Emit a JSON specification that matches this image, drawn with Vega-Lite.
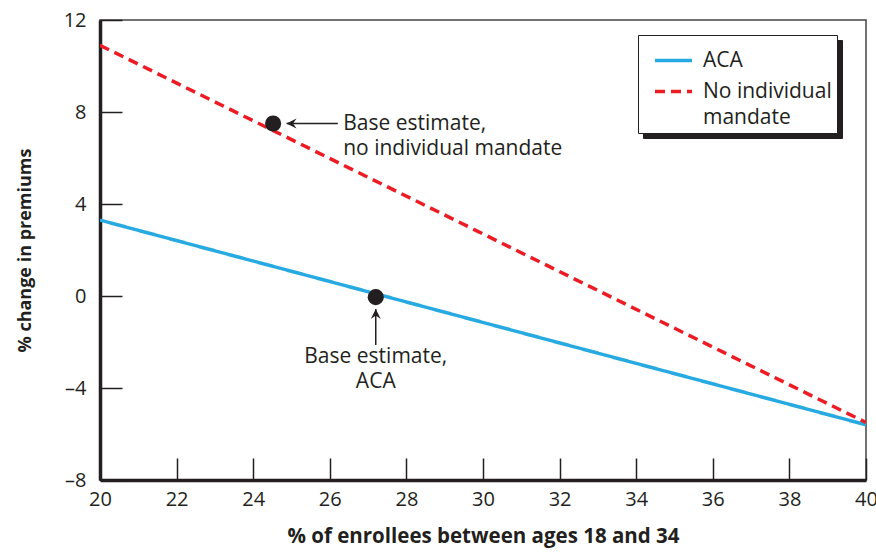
{
  "$schema": "https://vega.github.io/schema/vega-lite/v6.json",
  "width": 766,
  "height": 460,
  "autosize": {"type": "none"},
  "padding": {"left": 100, "top": 20, "right": 10, "bottom": 74},
  "background": "white",
  "config": {
    "font": "Open Sans",
    "view": {"stroke": "#444444", "strokeWidth": 1.5},
    "axis": {
      "grid": false,
      "domainColor": "#231f20",
      "domainWidth": 3.5,
      "tickColor": "#231f20",
      "tickWidth": 1.5,
      "tickSize": -22,
      "labelFontSize": 20,
      "labelColor": "#231f20",
      "labelFont": "Open Sans",
      "titleFont": "Open Sans",
      "titleFontWeight": "bold",
      "titleColor": "#231f20"
    }
  },
  "datasets": {
    "lines": [
      {"series": "ACA", "shadow": "ACA", "x": 20, "y": 3.3},
      {"series": "ACA", "shadow": "ACA", "x": 40, "y": -5.6},
      {"series": "No individual mandate", "shadow": "No individual mandate", "x": 20, "y": 10.9},
      {"series": "No individual mandate", "shadow": "No individual mandate", "x": 40, "y": -5.5}
    ],
    "points": [
      {"x": 24.52, "y": 7.5},
      {"x": 27.2, "y": -0.05}
    ],
    "arrows": [
      {"dir": "left", "x": 24.87, "y": 7.5, "x2": 26.21, "y2": 7.5},
      {"dir": "up", "x": 27.2, "y": -0.57, "x2": 27.2, "y2": -2.13}
    ],
    "labelsLeft": [
      {"x": 26.35, "y": 7.5, "text": "Base estimate,\nno individual mandate"}
    ],
    "labelsCenter": [
      {"x": 27.2, "y": -2.65, "text": "Base estimate,\nACA"}
    ]
  },
  "layer": [
    {
      "data": {"name": "lines"},
      "mark": {"type": "line", "strokeWidth": 3.5, "clip": true},
      "encoding": {
        "x": {
          "field": "x", "type": "quantitative",
          "scale": {"domain": [20, 40], "nice": false, "zero": false},
          "axis": {
            "values": [20,21,22,23,24,25,26,27,28,29,30,31,32,33,34,35,36,37,38,39,40],
            "labelExpr": "datum.value % 2 == 0 ? datum.label : ''",
            "labelPadding": 31,
            "labelFlush": false,
            "title": "% of enrollees between ages 18 and 34",
            "titleFontSize": 20.5,
            "titlePadding": 17
          }
        },
        "y": {
          "field": "y", "type": "quantitative",
          "scale": {"domain": [-8, 12], "nice": false, "zero": false},
          "axis": {
            "values": [-8, -4, 0, 4, 8, 12],
            "labelExpr": "datum.value < 0 ? '–' + abs(datum.value) : datum.label",
            "labelPadding": 36,
            "labelFlush": false,
            "title": "% change in premiums",
            "titleFontSize": 18,
            "titlePadding": 29
          }
        },
        "opacity": {
          "field": "shadow", "type": "nominal",
          "scale": {"range": [1, 1]},
          "legend": {
            "title": null,
            "orient": "none",
            "legendX": 543,
            "legendY": 20,
            "zindex": 0,
            "strokeColor": "#231f20",
            "fillColor": "#231f20",
            "padding": 5,
            "labelFontSize": 21,
            "labelColor": "#231f20",
            "labelFont": "Open Sans",
            "labelOffset": 9,
            "labelLimit": 300,
            "symbolType": "stroke",
            "symbolSize": 1369,
            "symbolOffset": 10,
            "symbolStrokeWidth": 3.5,
            "symbolStrokeColor": "#231f20",
            "rowPadding": -22,
            "labelExpr": "datum.label == 'No individual mandate' ? ['No individual', 'mandate'] : datum.label",
            "encode": {"labels": {"update": {"lineHeight": {"value": 26}}}}
          }
        },
        "color": {
          "field": "series", "type": "nominal",
          "scale": {"domain": ["ACA", "No individual mandate"], "range": ["#27a9e1", "#ed1c24"]},
          "legend": {
            "title": null,
            "orient": "none",
            "legendX": 538,
            "legendY": 15,
            "zindex": 2,
            "strokeColor": "#231f20",
            "fillColor": "white",
            "padding": 5,
            "labelFontSize": 21,
            "labelColor": "#231f20",
            "labelFont": "Open Sans",
            "labelOffset": 9,
            "labelLimit": 300,
            "symbolSize": 1369,
            "symbolOffset": 10,
            "symbolStrokeWidth": 3.5,
            "rowPadding": -22,
            "labelExpr": "datum.label == 'No individual mandate' ? ['No individual', 'mandate'] : datum.label",
            "encode": {"labels": {"update": {"lineHeight": {"value": 26}}}}
          }
        },
        "strokeDash": {
          "field": "series", "type": "nominal",
          "scale": {"domain": ["ACA", "No individual mandate"], "range": [[1, 0], [10, 6]]},
          "legend": {
            "title": null,
            "orient": "none",
            "legendX": 538,
            "legendY": 15,
            "zindex": 2,
            "strokeColor": "#231f20",
            "fillColor": "white",
            "padding": 5,
            "labelFontSize": 21,
            "labelColor": "#231f20",
            "labelFont": "Open Sans",
            "labelOffset": 9,
            "labelLimit": 300,
            "symbolSize": 1369,
            "symbolOffset": 10,
            "symbolStrokeWidth": 3.5,
            "rowPadding": -22,
            "labelExpr": "datum.label == 'No individual mandate' ? ['No individual', 'mandate'] : datum.label",
            "encode": {"labels": {"update": {"lineHeight": {"value": 26}}}}
          }
        }
      }
    },
    {
      "data": {"name": "arrows"},
      "mark": {"type": "rule", "color": "#231f20", "strokeWidth": 1.5},
      "encoding": {
        "x": {"field": "x", "type": "quantitative"},
        "y": {"field": "y", "type": "quantitative"},
        "x2": {"field": "x2"},
        "y2": {"field": "y2"}
      }
    },
    {
      "data": {"name": "arrows"},
      "mark": {"type": "point", "filled": true, "color": "#231f20", "opacity": 1, "size": 100},
      "encoding": {
        "x": {"field": "x", "type": "quantitative"},
        "y": {"field": "y", "type": "quantitative"},
        "shape": {
          "field": "dir", "type": "nominal",
          "scale": {"domain": ["left", "up"], "range": ["M0,0L2,-1L1.3,0L2,1Z", "M0,0L-1,2L0,1.3L1,2Z"]},
          "legend": null
        }
      }
    },
    {
      "data": {"name": "points"},
      "mark": {"type": "circle", "color": "#231f20", "opacity": 1, "size": 260},
      "encoding": {
        "x": {"field": "x", "type": "quantitative"},
        "y": {"field": "y", "type": "quantitative"}
      }
    },
    {
      "data": {"name": "labelsLeft"},
      "mark": {"type": "text", "fontSize": 21, "color": "#231f20", "align": "left", "baseline": "middle", "lineBreak": "\n", "lineHeight": 25, "font": "Open Sans"},
      "encoding": {
        "x": {"field": "x", "type": "quantitative"},
        "y": {"field": "y", "type": "quantitative"},
        "text": {"field": "text"}
      }
    },
    {
      "data": {"name": "labelsCenter"},
      "mark": {"type": "text", "fontSize": 21, "color": "#231f20", "align": "center", "baseline": "middle", "lineBreak": "\n", "lineHeight": 25, "font": "Open Sans"},
      "encoding": {
        "x": {"field": "x", "type": "quantitative"},
        "y": {"field": "y", "type": "quantitative"},
        "text": {"field": "text"}
      }
    }
  ]
}
